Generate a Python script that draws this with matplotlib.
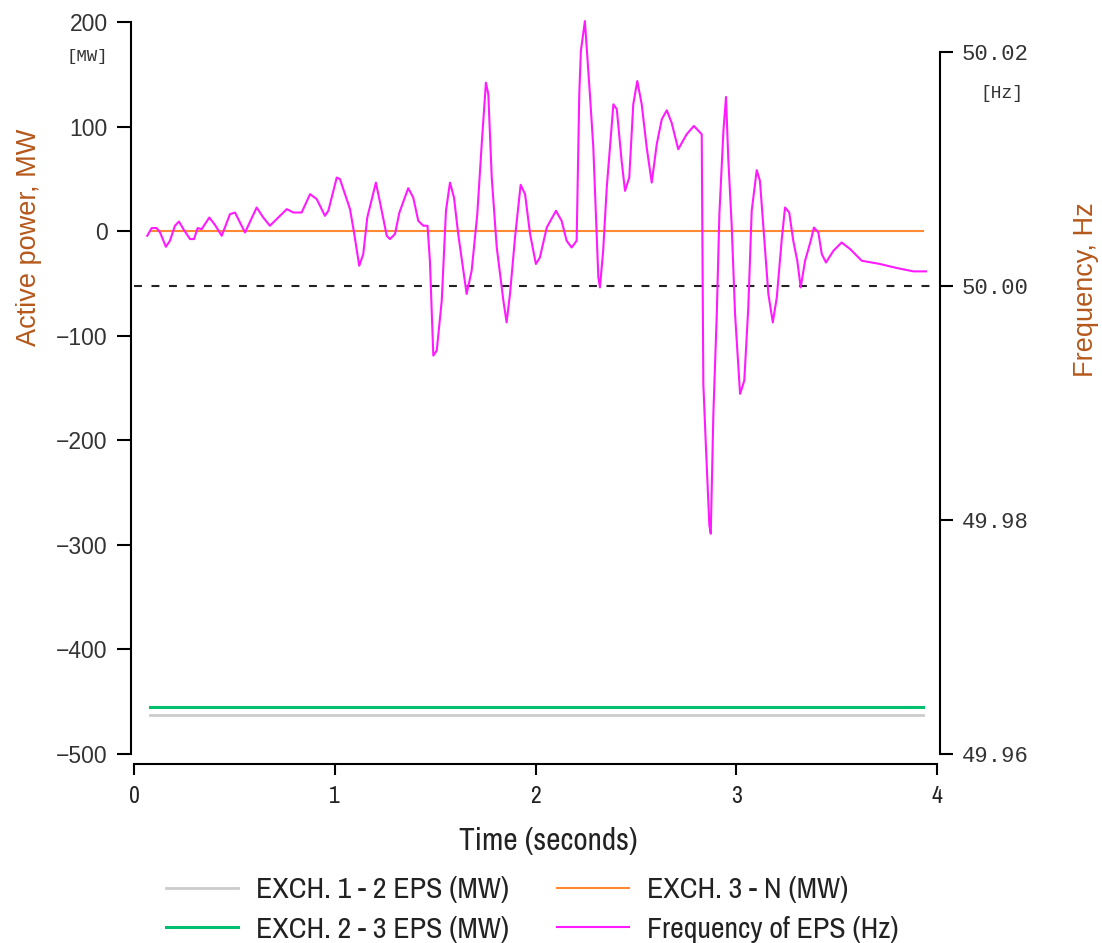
import matplotlib
matplotlib.use('Agg')
import matplotlib.pyplot as plt

# Time axis (s) and frequency of EPS (Hz)
freq_t = [0.066, 0.088, 0.113, 0.130, 0.159, 0.179, 0.204, 0.224, 0.246, 0.279,
          0.299, 0.317, 0.337, 0.375, 0.403, 0.437, 0.478, 0.503, 0.528, 0.553,
          0.611, 0.644, 0.677, 0.711, 0.761, 0.794, 0.835, 0.877, 0.910, 0.951,
          0.968, 1.010, 1.026, 1.076, 1.096, 1.122, 1.142, 1.162, 1.205, 1.229,
          1.259, 1.275, 1.300, 1.322, 1.366, 1.391, 1.416, 1.441, 1.462, 1.474,
          1.491, 1.508, 1.533, 1.554, 1.574, 1.594, 1.615, 1.657, 1.682, 1.710,
          1.732, 1.753, 1.765, 1.782, 1.807, 1.840, 1.856, 1.873, 1.898, 1.926,
          1.948, 1.973, 2.002, 2.022, 2.056, 2.102, 2.130, 2.155, 2.180, 2.205,
          2.218, 2.226, 2.246, 2.271, 2.288, 2.313, 2.321, 2.337, 2.355, 2.388,
          2.405, 2.429, 2.446, 2.467, 2.487, 2.507, 2.529, 2.554, 2.579, 2.604,
          2.629, 2.654, 2.678, 2.711, 2.753, 2.789, 2.828, 2.836, 2.849, 2.866,
          2.873, 2.886, 2.903, 2.916, 2.936, 2.949, 2.960, 2.977, 2.994, 3.019,
          3.040, 3.060, 3.077, 3.102, 3.118, 3.143, 3.160, 3.182, 3.202, 3.226,
          3.243, 3.264, 3.284, 3.304, 3.321, 3.343, 3.371, 3.387, 3.409, 3.426,
          3.447, 3.484, 3.525, 3.567, 3.625, 3.716, 3.799, 3.882, 3.945]

# deviation from 50 Hz in mHz
freq_dev_mhz = [4.29, 4.95, 4.95, 4.57, 3.35, 3.87, 5.15, 5.51, 4.86, 4.01,
                4.01, 4.95, 4.86, 5.85, 5.23, 4.29, 6.14, 6.28, 5.43, 4.57,
                6.71, 5.85, 5.15, 5.72, 6.57, 6.28, 6.28, 7.85, 7.43, 6.00,
                6.43, 9.27, 9.13, 6.57, 4.57, 1.73, 2.73, 5.85, 8.84, 6.85,
                4.29, 4.01, 4.44, 6.28, 8.36, 7.56, 5.57, 5.15, 5.15, 2.16,
                -5.95, -5.52, -1.25, 6.43, 8.84, 7.56, 4.44, -0.68, 1.31, 6.14,
                12.12, 17.38, 16.39, 9.27, 3.29, -1.25, -3.11, -0.68, 4.15, 8.65,
                7.85, 4.44, 1.88, 2.44, 5.00, 6.43, 5.57, 3.87, 3.29, 3.87,
                16.39, 20.08, 22.64, 16.39, 11.83, 0.73, -0.12, 3.01, 8.42, 15.53,
                15.11, 10.69, 8.13, 9.27, 15.53, 17.52, 15.53, 11.83, 8.84, 12.12,
                14.25, 15.02, 13.96, 11.69, 12.97, 13.68, 12.97, -8.36, -13.77, -20.46,
                -21.17, -10.92, -2.39, 6.14, 13.25, 16.16, 10.98, 5.29, -2.39, -9.22,
                -8.08, -1.83, 6.43, 9.90, 8.99, 3.29, -0.68, -3.11, -0.97, 3.87,
                6.71, 6.28, 3.87, 2.16, -0.12, 2.16, 3.87, 5.00, 4.57, 2.73,
                2.01, 3.01, 3.72, 3.16, 2.16, 1.88, 1.54, 1.25, 1.25]
freq_hz = [50.0 + d / 1000.0 for d in freq_dev_mhz]

# exchange flows (MW), constant over the run
exch_t = [0.08, 3.93]
exch_12 = [-463, -463]
exch_23 = [-455, -455]
exch_3n = [0, 0]

nominal_hz = 50.0

narrow = ['Archivo Narrow', 'DejaVu Sans']
plt.rcParams['font.family'] = ['Liberation Sans', 'DejaVu Sans']

W, H = 1102, 943
fig = plt.figure(figsize=(W / 100, H / 100), dpi=100)
ax = fig.add_axes([134 / W, (H - 754) / H, 803 / W, 732 / H])
ax2 = ax.twinx()

l12, = ax.plot(exch_t, exch_12, color='#cccccc', lw=2.0, label='EXCH. 1 - 2 EPS (MW)')
l23, = ax.plot(exch_t, exch_23, color='#00bf6f', lw=2.2, label='EXCH. 2 - 3 EPS (MW)')
l3n, = ax.plot(exch_t, exch_3n, color='#ff8a33', lw=1.5, label='EXCH. 3 - N (MW)')

ax2.axhline(nominal_hz, color='#222222', lw=1.5, ls=(0, (3.8, 4.6)))
lf, = ax2.plot(freq_t, freq_hz, color='#ff1aff', lw=1.5, label='Frequency of EPS (Hz)',
               clip_on=False)

ax.set_xlim(0, 4)
ax.set_ylim(-500, 200)
ax2.set_ylim(49.96, 49.96 + 732 / 11700)

ax.set_xticks([0, 1, 2, 3, 4])
ax.set_yticks([-500, -400, -300, -200, -100, 0, 100, 200])
ax.set_yticklabels(['\u2212500', '\u2212400', '\u2212300', '\u2212200', '\u2212100',
                    '0', '100', '200'])
ax2.set_yticks([49.96, 49.98, 50.00, 50.02])
ax2.set_yticklabels(['49.96', '49.98', '50.00', '50.02'])

for a in (ax, ax2):
    a.spines['top'].set_visible(False)
ax.spines['right'].set_visible(False)
ax2.spines['left'].set_visible(False)
ax2.spines['bottom'].set_visible(False)
ax.spines['bottom'].set_position(('outward', 7))
ax.spines['left'].set_position(('outward', 2))
ax2.spines['right'].set_position(('outward', 2))
ax2.spines['right'].set_bounds(49.96, 50.02)
for s in ('left', 'bottom'):
    ax.spines[s].set_linewidth(1.5)
ax2.spines['right'].set_linewidth(1.5)

ax.tick_params(axis='y', direction='out', length=10, width=1.5, pad=7,
               labelsize=16.5, labelcolor='#333333')
ax.tick_params(axis='x', direction='out', length=8, width=1.5, pad=8,
               labelsize=17, labelcolor='#222222')
ax2.tick_params(axis='y', direction='out', length=9, width=1.5, pad=7,
                labelsize=16, labelcolor='#333333')
for lab in ax2.get_yticklabels():
    lab.set_family('Liberation Mono')
for lab in ax.get_xticklabels():
    lab.set_family(narrow)

ax.set_xlabel('Time (seconds)', fontsize=22.5, color='#222222', family=narrow)
ax.xaxis.set_label_coords(0.5156, -0.1)
ax.set_ylabel('Active power, MW', fontsize=19.5, color='#b5581c')
ax.yaxis.set_label_coords(-0.1146, 0.706)
ax2.set_ylabel('Frequency, Hz', fontsize=19.5, color='#b5581c')
ax2.yaxis.set_label_coords(1.169, 0.635)

fig.text(87 / W, 1 - 57 / H, '[MW]', family='Liberation Mono', fontsize=12.5,
         ha='center', va='center', color='#333333')
fig.text(1002 / W, 1 - 93 / H, '[Hz]', family='Liberation Mono', fontsize=13,
         ha='center', va='center', color='#333333')

leg_kw = dict(frameon=False, loc='upper left', borderpad=0, borderaxespad=0,
              handlelength=2.4, handletextpad=0.63, labelspacing=0.43,
              prop={'family': narrow, 'size': 21.5}, labelcolor='#222222')
leg1 = fig.legend(handles=[l12, l23], bbox_to_anchor=(166 / W, 1 - 876 / H), **leg_kw)
leg2 = fig.legend(handles=[l3n, lf], bbox_to_anchor=(557 / W, 1 - 876 / H), **leg_kw)

fig.savefig('out.png', dpi=100)
